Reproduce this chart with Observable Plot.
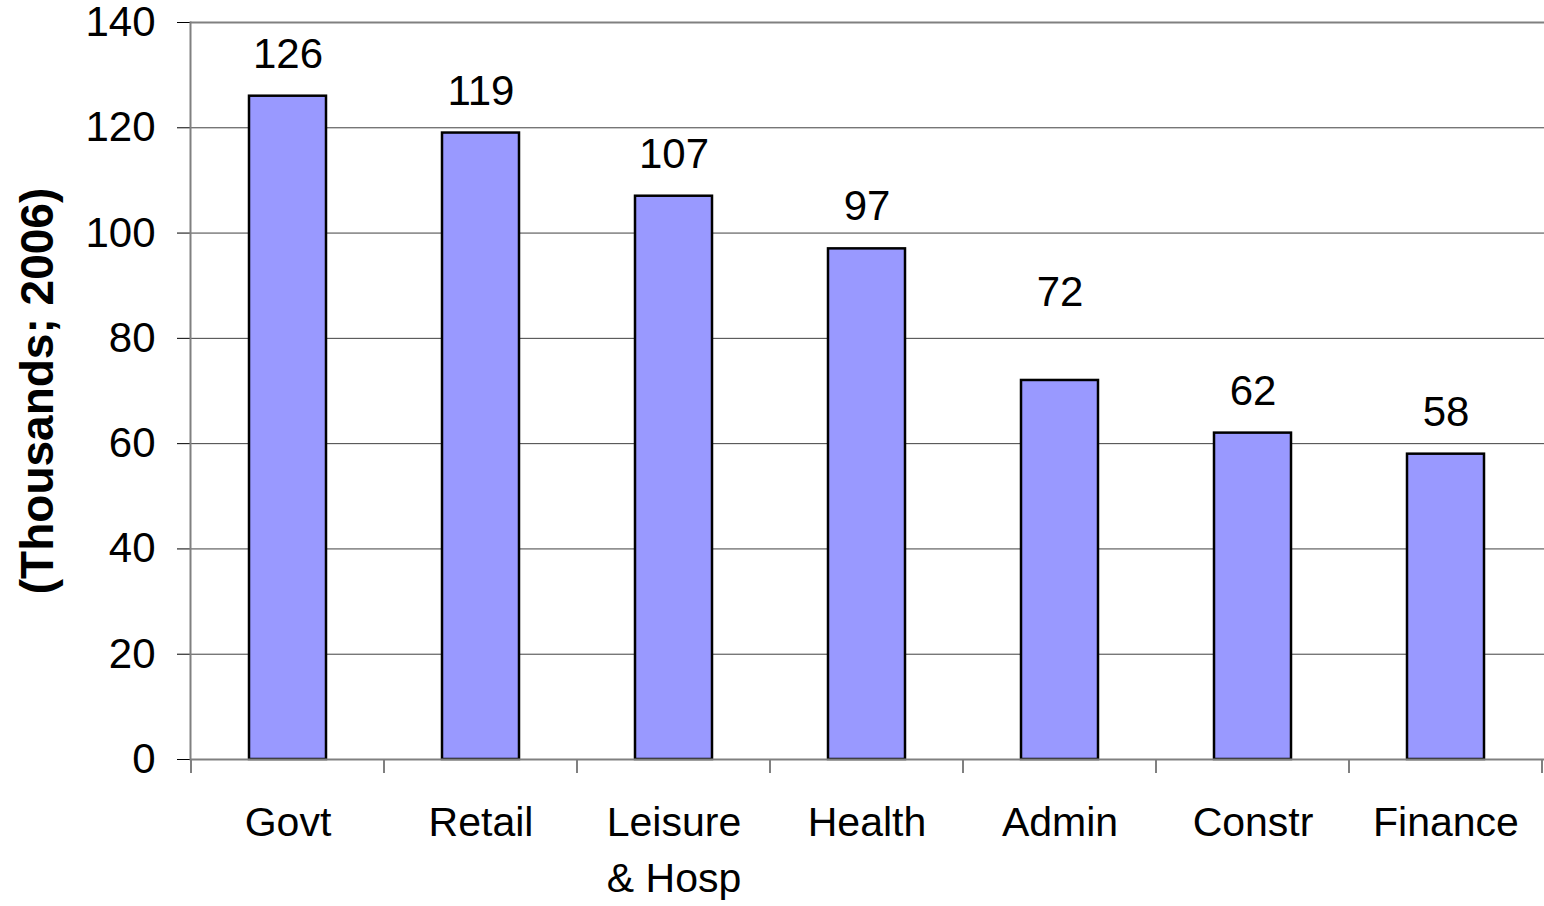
<!DOCTYPE html>
<html><head><meta charset="utf-8">
<script src="https://cdn.jsdelivr.net/npm/d3@7"></script>
<script src="https://cdn.jsdelivr.net/npm/@observablehq/plot@0.6"></script>
<style>html,body{margin:0;padding:0;background:#fff} svg{display:block}</style>
</head><body><div id="chart"></div>
<script>
const categories = ["Govt", "Retail", "Leisure\n& Hosp", "Health", "Admin", "Constr", "Finance"];
const values = [126, 119, 107, 97, 72, 62, 58];
const yTicks = [0, 20, 40, 60, 80, 100, 120, 140];
const yLabel = "(Thousands; 2006)";
const raisedLabel = "Admin";

const data = categories.map((c, i) => ({category: c, value: values[i]}));

const chart = Plot.plot({
  width: 1544, height: 906,
  marginLeft: 190, marginRight: 0, marginTop: 22, marginBottom: 147,
  style: {fontFamily: "Arial, 'Liberation Sans', sans-serif", fontSize: "42px", color: "#000", background: "#fff", overflow: "visible"},
  x: {domain: categories, paddingInner: 0.6, paddingOuter: 0.3, label: null},
  y: {domain: [0, 140], label: null},
  marks: [
    Plot.gridY(yTicks, {stroke: "#404040", strokeOpacity: 1, strokeWidth: 1}),
    Plot.ruleY([140], {stroke: "#808080", strokeWidth: 2}),
    Plot.axisY(yTicks, {tickSize: 13, tickPadding: 22, fontSize: 42, label: null, stroke: "#000", strokeWidth: 1, tickFormat: d => String(d)}),
    Plot.axisX({tickSize: 0, tickPadding: 37, fontSize: 41, label: null, lineHeight: 1.36}),
    Plot.barY(data, {x: "category", y: "value", fill: "#9999FF", stroke: "#000", strokeWidth: 2.5}),
    Plot.ruleY([0], {stroke: "#808080", strokeWidth: 2}),
    Plot.frame({anchor: "left", stroke: "#808080", strokeWidth: 2}),
    Plot.text(data.filter(d => d.category !== raisedLabel), {x: "category", y: "value", text: d => String(d.value), dy: -42, fontSize: 42}),
    Plot.text(data.filter(d => d.category === raisedLabel), {x: "category", y: "value", text: d => String(d.value), dy: -88, fontSize: 42}),
    Plot.text([yLabel], {frameAnchor: "left", text: d => d, rotate: -90, textAnchor: "middle", dx: -152, fontSize: 46, fontWeight: "bold"})
  ]
});

document.getElementById("chart").appendChild(chart);

// category boundary ticks on the x axis, positioned with the plot's own scales
const xs = chart.scale("x");
const ys = chart.scale("y");
const gap = xs.step - xs.bandwidth;
const bounds = categories.map(c => xs.apply(c) - gap / 2);
bounds.push(xs.apply(categories[categories.length - 1]) + xs.bandwidth + gap / 2);
const y0 = ys.apply(0);
d3.select(chart).append("g")
  .attr("stroke", "#808080").attr("stroke-width", 2)
  .selectAll("line").data(bounds).join("line")
  .attr("x1", d => d).attr("x2", d => d)
  .attr("y1", y0).attr("y2", y0 + 14);
</script>
</body></html>
